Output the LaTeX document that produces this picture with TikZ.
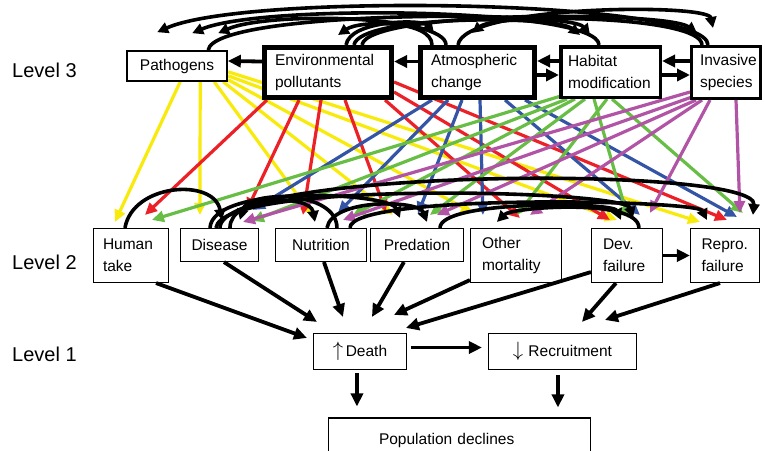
\documentclass[tikz,border=0pt]{standalone}
\usepackage{fontspec}
\setmainfont{Liberation Sans}
\usetikzlibrary{arrows.meta,calc}
\pgfdeclarelayer{bg}
\pgfsetlayers{bg,main}
\definecolor{cy}{RGB}{248,234,10}
\definecolor{cr}{RGB}{236,32,39}
\definecolor{cb}{RGB}{52,84,166}
\definecolor{cg}{RGB}{104,189,69}
\definecolor{cm}{RGB}{178,84,166}
\newcommand\colarrow[5]{\draw[carrow=#1] ($(#2.south west)+(#3)$) -- ($(#4.north west)+(#5)$);}
\newcommand\blkarc[6]{\draw[arcarrow] ($(#1.north west)+(#2,0)$) .. controls +(#5) and +(#6) .. ($(#3.north west)+(#4)$);}
\begin{document}
\begin{tikzpicture}[x=1pt,y=-1pt,
 box/.style={draw,fill=white,inner sep=0pt,line width=1.1pt,font=\fontsize{15.5}{22}\selectfont},
 lvl/.style={anchor=west,inner sep=0pt,font=\fontsize{20}{24}\selectfont},
 carrow/.style={draw=#1,line width=3.2pt,-{Triangle[length=12pt,width=11pt]}},
 arcarrow/.style={draw=black,line width=3.6pt,-{Triangle[length=11pt,width=11pt]}},
 barrow/.style={draw=black,line width=3.8pt,-{Triangle[length=13pt,width=12pt]}}]
\useasboundingbox (0,0) rectangle (765,450);

% level labels
\node[lvl] (l3) at (12,70) {Level 3};
\node[lvl] (l2) at (12,262) {Level 2};
\node[lvl] (l1) at (12,354) {Level 1};

% level 3
\node[box,line width=1.6pt,minimum width=100pt,minimum height=30pt] (pat) at (177,66) {Pathogens};
\node[box,line width=5pt,minimum width=127pt,minimum height=50pt,text width=106pt,align=left] (env) at (328,72.5) {Environmental\\pollutants};
\node[box,line width=5pt,minimum width=114pt,minimum height=50pt,text width=93pt,align=left] (atm) at (477.5,72.5) {Atmospheric\\change};
\node[box,line width=3.5pt,minimum width=99.5pt,minimum height=50.5pt,text width=85pt,align=left] (hab) at (610.5,72) {Habitat\\modification};
\node[box,line width=3pt,minimum width=69pt,minimum height=52pt,text width=52pt,align=left] (inv) at (726,72.5) {Invasive\\species};

% level 2
\node[box,minimum width=75pt,minimum height=54pt,text width=56pt,align=left] (ht) at (131,255.5) {Human\\take};
\node[box,minimum width=78pt,minimum height=33pt] (dis) at (219.5,245) {Disease};
\node[box,minimum width=91pt,minimum height=33pt] (nut) at (321,245) {Nutrition};
\node[box,minimum width=93pt,minimum height=33pt] (pred) at (417,245) {Predation};
\node[box,minimum width=91pt,minimum height=54pt,text width=68pt,align=left] (oth) at (516,255.5) {Other\\mortality};
\node[box,minimum width=71pt,minimum height=54pt,text width=48pt,align=left] (dev) at (627,255.5) {Dev.\\failure};
\node[box,minimum width=69pt,minimum height=54pt,text width=47pt,align=left] (rep) at (725,255.5) {Repro.\\failure};

% level 1
\node[box,minimum width=93pt,minimum height=36pt] (death) at (360,351.5) {{\fontsize{22}{22}\selectfont$\uparrow$}\,Death};
\node[box,minimum width=148pt,minimum height=36pt] (rec) at (562.5,351.5) {{\fontsize{22}{22}\selectfont$\downarrow$}\,\,Recruitment};
\node[box,minimum width=262pt,minimum height=44pt,text width=161pt,align=left] (pop) at (459.5,440) {Population declines};

\begin{pgfonlayer}{bg}
% yellow: pathogens
\colarrow{cy}{pat}{54,0}{ht}{22,-6}
\colarrow{cy}{pat}{74,0}{dis}{20,-13}
\colarrow{cy}{pat}{88,0}{nut}{37,-13}
\colarrow{cy}{pat}{97,0}{pred}{23,-13}
\colarrow{cy}{pat}{102,-2}{oth}{3,-15}
\colarrow{cy}{pat}{102,-6}{dev}{26,-8}
\colarrow{cy}{pat}{102,-10}{rep}{10,-6}
% red: pollutants
\colarrow{cr}{env}{5,0}{ht}{52,-13}
\colarrow{cr}{env}{37,0}{dis}{67,-18}
\colarrow{cr}{env}{59,0}{nut}{28,-13}
\colarrow{cr}{env}{83,0}{pred}{16,-16}
\colarrow{cr}{env}{123,0}{oth}{50,-10}
\colarrow{cr}{env}{132,-8}{dev}{19,-8}
\colarrow{cr}{env}{132,-18}{rep}{37,-8}
% blue: atmospheric
\colarrow{cb}{atm}{14,0}{dis}{73,-18}
\colarrow{cb}{atm}{30,0}{nut}{63,-15}
\colarrow{cb}{atm}{44,0}{pred}{48,-14}
\colarrow{cb}{atm}{62,0}{oth}{13,-13}
\colarrow{cb}{atm}{87,0}{dev}{49,-13}
\colarrow{cb}{atm}{107,0}{rep}{47,-11}
% green: habitat
\colarrow{cg}{hab}{2,-3}{ht}{59,-8}
\colarrow{cg}{hab}{8,0}{dis}{72,-7}
\colarrow{cg}{hab}{16,0}{nut}{78,-13}
\colarrow{cg}{hab}{26,0}{pred}{60,-13}
\colarrow{cg}{hab}{48,0}{oth}{47,-13}
\colarrow{cg}{hab}{35,0}{dev}{37,-10}
\colarrow{cg}{hab}{53,0}{rep}{53,-15}
% magenta: invasive
\colarrow{cm}{inv}{0,-8}{dis}{63,-6}
\colarrow{cm}{inv}{2,-3}{nut}{68,-8}
\colarrow{cm}{inv}{6,0}{pred}{67,-13}
\colarrow{cm}{inv}{12,0}{oth}{60,-13}
\colarrow{cm}{inv}{20,0}{dev}{59,-15}
\colarrow{cm}{inv}{46,0}{rep}{50,-15}

% black arcs among level 2
\blkarc{ht}{32}{dis}{42,-8}{8,-45}{-8,-42}
\blkarc{nut}{62}{dis}{60,-8}{0,-38}{8,-30}
\blkarc{dis}{50}{nut}{40,-6}{0,-33}{-5,-28}
\blkarc{dis}{30}{pred}{30,-10}{3,-45}{-10,-25}
\blkarc{nut}{52}{pred}{57,-6}{5,-30}{-8,-22}
\blkarc{dis}{36}{dev}{42,-10}{5,-48}{-8,-28}
\blkarc{dis}{40}{rep}{63,-13}{0,-60}{5,-50}
\blkarc{dev}{48}{oth}{27,-6}{0,-30}{15,-15}
\blkarc{nut}{75}{rep}{17,-8}{0,-35}{-10,-20}
\blkarc{pred}{70}{dev}{30,-8}{0,-28}{-8,-18}

% black arcs among level 3
\blkarc{inv}{18}{pat}{31,-18}{0,-45}{90,-40}
\blkarc{hab}{40}{pat}{66,-17}{0,-37}{70,-30}
\blkarc{atm}{28}{pat}{92,-17}{0,-30}{50,-22}
\blkarc{atm}{14}{env}{76,-10}{0,-25}{22,-15}
\blkarc{env}{84}{atm}{16,-12}{4,-25}{-12,-14}
\blkarc{inv}{12}{atm}{54,-12}{0,-30}{25,-20}
\blkarc{env}{92}{hab}{21,-10}{5,-30}{-25,-20}
\blkarc{pat}{82}{hab}{31,-10}{5,-40}{-20,-25}
\blkarc{env}{100}{inv}{7,-12}{5,-35}{-30,-22}
\blkarc{atm}{40}{inv}{23,-17}{5,-40}{-5,-25}
\end{pgfonlayer}

% straight arrows level 3
\draw[barrow] ($(env.west)+(0,-11)$) -- ($(pat.east)+(0,-5)$);
\draw[barrow] ($(atm.west)+(0,-11)$) -- ($(env.east)+(0,-11)$);
\draw[barrow] ($(hab.west)+(0,-11)$) -- ($(atm.east)+(0,-11.5)$);
\draw[barrow] ($(atm.east)+(0,2.5)$) -- ($(hab.west)+(0,3)$);
\draw[barrow] ($(inv.west)+(0,-11.5)$) -- ($(hab.east)+(0,-11)$);
\draw[barrow] ($(hab.east)+(0,3)$) -- ($(inv.west)+(0,2.5)$);

% level 2 -> level 1
\draw[barrow] (dev.east) -- (rep.west);
\draw[barrow] ($(ht.south east)+(-13,0)$) -- ($(death.north west)+(-6,5)$);
\draw[barrow] ($(dis.south west)+(44,0)$) -- ($(death.north west)+(4,-11)$);
\draw[barrow] ($(nut.south west)+(49,0)$) -- ($(death.north west)+(30,-16)$);
\draw[barrow] ($(pred.south west)+(34,0)$) -- ($(death.north west)+(59,-16)$);
\draw[barrow] ($(oth.south west)+(0,-3)$) -- ($(death.north west)+(81,-18)$);
\draw[barrow] ($(dev.south west)+(0,-11)$) -- ($(death.north west)+(93,-5)$);
\draw[barrow] ($(dev.south west)+(25,0)$) -- ($(rec.north west)+(94,-11)$);
\draw[barrow] ($(rep.south west)+(30,0)$) -- ($(rec.north west)+(117,-13)$);

% level 1 -> population
\draw[barrow] ($(death.east)+(4,-4)$) -- ($(rec.west)+(-6,-4)$);
\draw[barrow] ($(death.south)+(-3,3)$) -- ($(pop.north west)+(29,-11)$);
\draw[barrow] ($(rec.south)+(-4.5,5)$) -- ($(pop.north west)+(230,-10)$);
\end{tikzpicture}
\end{document}
